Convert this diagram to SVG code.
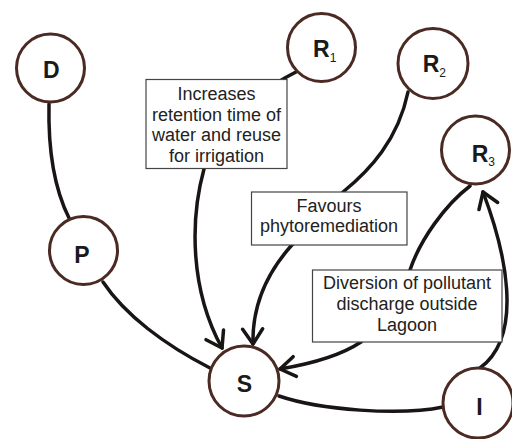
<svg xmlns="http://www.w3.org/2000/svg" width="512" height="439" viewBox="0 0 512 439">
<style>
.node circle{fill:#fff;stroke:#4a2a22;stroke-width:3}
.lbl{font-family:"Liberation Sans",Arial,sans-serif;font-weight:bold;font-size:23px;fill:#1a1a1a}
.sub{font-size:12px;font-weight:normal}
.conn path{fill:none;stroke:#1a1515;stroke-width:3.5;stroke-linecap:round}
.box rect{fill:#fff;stroke:#444;stroke-width:1.2}
.box text{font-family:"Liberation Sans",Arial,sans-serif;font-size:18px;fill:#222;text-anchor:middle}
</style>
<defs>
<marker id="arr" markerUnits="userSpaceOnUse" markerWidth="30" markerHeight="30" refX="0" refY="0" viewBox="-20 -15 25 30" orient="auto" overflow="visible">
<path d="M -15 -10 L 0 0 L -15 10" fill="none" stroke="#1a1515" stroke-width="3.5" stroke-linecap="round" stroke-linejoin="round"/>
</marker>
</defs>
<rect width="512" height="439" fill="#fff"/>
<g class="conn" id="connectors">
<path d="M 49 104 C 48 150, 55 190, 69 218"/>
<path d="M 103 282 C 125 315, 165 345, 210 368"/>
<path d="M 296 72 C 250 95, 215 130, 204 169 C 190 220, 190 290, 222 348" marker-end="url(#arr)"/>
<path d="M 408 92 C 398 140, 370 170, 343 192 L 291 246 C 268 272, 252 305, 253 344" marker-end="url(#arr)"/>
<path d="M 470 186 C 445 205, 420 240, 410 270 L 361 342 C 340 356, 310 364, 280 369" marker-end="url(#arr)"/>
<path d="M 480 368 C 525 335, 505 250, 483 192" marker-end="url(#arr)"/>
<path d="M 279 396 C 320 410, 400 416, 443 407"/>
</g>
<g class="box" id="label-r1">
<rect x="146" y="79.5" width="141" height="89"/>
<text x="216.5" y="100">Increases</text>
<text x="216.5" y="120.7">retention time of</text>
<text x="216.5" y="141.4">water and reuse</text>
<text x="216.5" y="162">for irrigation</text>
</g>
<g class="box" id="label-r2">
<rect x="251.5" y="192" width="155.5" height="53"/>
<text x="329" y="211.7">Favours</text>
<text x="329" y="232.3">phytoremediation</text>
</g>
<g class="box" id="label-r3">
<rect x="312.5" y="270" width="189.5" height="72"/>
<text x="407" y="289.3">Diversion of pollutant</text>
<text x="407" y="310">discharge outside</text>
<text x="407" y="330.7">Lagoon</text>
</g>
<g class="node" id="node-D"><circle cx="50.5" cy="68" r="34"/><text class="lbl" x="51.4" y="78.3" text-anchor="middle">D</text></g>
<g class="node" id="node-R1"><circle cx="321.5" cy="47.5" r="34"/><text class="lbl" x="313" y="57.3">R<tspan class="sub" dy="4.4">1</tspan></text></g>
<g class="node" id="node-R2"><circle cx="433" cy="63.5" r="35"/><text class="lbl" x="422.7" y="71.7">R<tspan class="sub" dy="5">2</tspan></text></g>
<g class="node" id="node-R3"><circle cx="475.5" cy="150" r="34"/><text class="lbl" x="471.7" y="161.7">R<tspan class="sub" dy="4">3</tspan></text></g>
<g class="node" id="node-P"><circle cx="83.5" cy="250.5" r="34"/><text class="lbl" x="82" y="262.7" text-anchor="middle">P</text></g>
<g class="node" id="node-S"><circle cx="244" cy="381" r="35"/><text class="lbl" x="244.3" y="391.7" text-anchor="middle">S</text></g>
<g class="node" id="node-I"><circle cx="478" cy="403" r="35"/><text class="lbl" x="479.5" y="415" text-anchor="middle">I</text></g>
</svg>
